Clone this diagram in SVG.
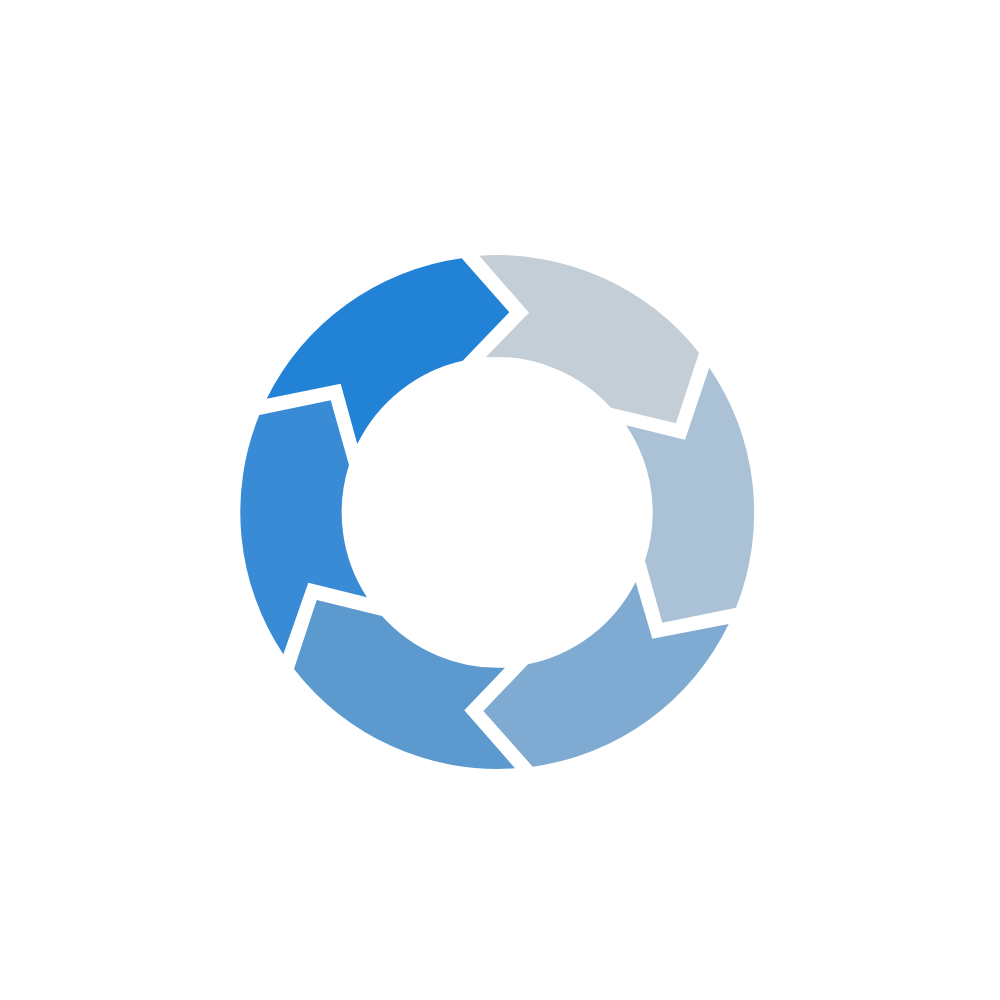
<svg xmlns="http://www.w3.org/2000/svg" width="1000" height="1000" viewBox="0 0 1000 1000">
<rect width="1000" height="1000" fill="#ffffff"/>
<g id="segment-1"><path fill="#2282d5" d="M461.7 258.3L509.3 312.3L462.7 360.7A155.5 155.5 0 0 0 357.3 444L340.7 383.7L266.7 398.7A257 257 0 0 1 461.7 258.3Z"/></g>
<g id="segment-2"><path fill="#3a8bd6" d="M259.3 415L330.7 400.3L349 465A155.5 155.5 0 0 0 367 597.3L308.3 582.7L283.3 654.3A257 257 0 0 1 259.3 415Z"/></g>
<g id="segment-3"><path fill="#5b99cf" d="M316.7 600L382 616A155.5 155.5 0 0 0 505 667.7L464.3 710.3L515 768.3A257 257 0 0 1 294 669Z"/></g>
<g id="segment-4"><path fill="#7fabd2" d="M483.3 711L528 664.3A155.5 155.5 0 0 0 635.7 582L652.3 638.7L728.7 624A257 257 0 0 1 532.7 766.7Z"/></g>
<g id="segment-5"><path fill="#aac1d6" d="M645 560.7L662.3 622.7L736 607.7A257 257 0 0 0 709.3 367.7L685 439.7L626 425.3A155.5 155.5 0 0 1 645 560.7Z"/></g>
<g id="segment-6"><path fill="#c4ced6" d="M479.3 255.7A257 257 0 0 1 699 352.7L676 423.3L611 407.7A155.5 155.5 0 0 0 485.7 357.3L529 312.7Z"/></g>
<g id="connectors"/>
</svg>
